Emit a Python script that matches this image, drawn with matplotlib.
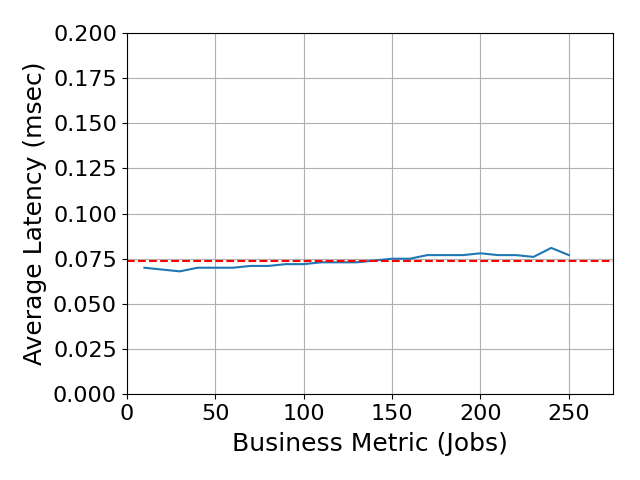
import matplotlib
matplotlib.use("Agg")
from matplotlib import pyplot as plt

# === Data ===
jobs = [10, 20, 30, 40, 50, 60, 70, 80, 90, 100, 110, 120, 130,
        140, 150, 160, 170, 180, 190, 200, 210, 220, 230, 240, 250]
latency = [0.070, 0.069, 0.068, 0.070, 0.070, 0.070, 0.071, 0.071, 0.072,
           0.072, 0.073, 0.073, 0.073, 0.074, 0.075, 0.075, 0.077, 0.077,
           0.077, 0.078, 0.077, 0.077, 0.076, 0.081, 0.077]
mean_latency = 0.074

fig, ax = plt.subplots(figsize=(6.4, 4.8), dpi=100)
ax.plot(jobs, latency, color="tab:blue")
ax.axhline(mean_latency, color="red", linestyle="--")

ax.set_xlim(0, 275)
ax.set_ylim(0, 0.2)
ax.set_xticks([0, 50, 100, 150, 200, 250])
ax.set_yticks([0.0, 0.025, 0.05, 0.075, 0.1, 0.125, 0.15, 0.175, 0.2])
ax.set_xlabel("Business Metric (Jobs)", fontsize=18, labelpad=6)
ax.set_ylabel("Average Latency (msec)", fontsize=18)
ax.tick_params(labelsize=16)
ax.grid(True)

fig.subplots_adjust(left=0.198, right=0.958, top=0.931, bottom=0.179)
fig.savefig("out.png")
plt.close(fig)
